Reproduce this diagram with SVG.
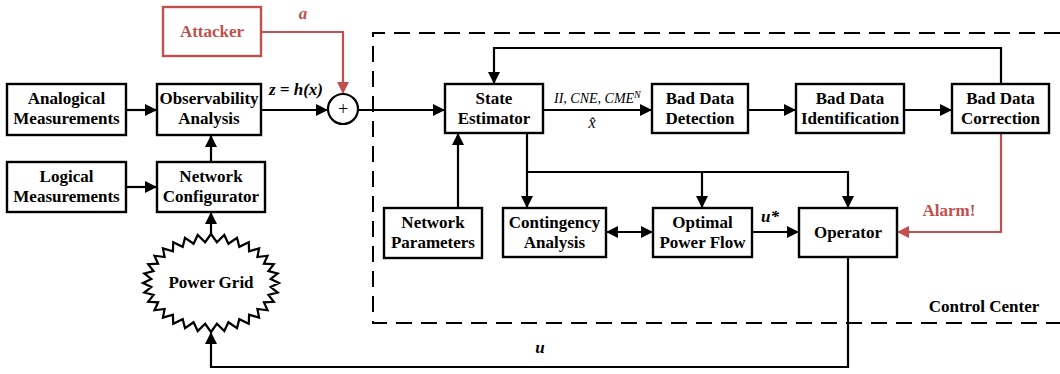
<svg xmlns="http://www.w3.org/2000/svg" width="1060" height="374" viewBox="0 0 1060 374">
<style>
text{font-family:"Liberation Serif","Times New Roman",serif;font-weight:bold;font-size:17px;fill:#000;text-anchor:middle}
.box{fill:#fff;stroke:#000;stroke-width:2.4}
.rbox{fill:#fff;stroke:#c0504d;stroke-width:2.4}
.red{fill:#c0504d}
.it{font-style:italic}
.w{fill:none;stroke:#000;stroke-width:2.2}
.wr{fill:none;stroke:#c0504d;stroke-width:2.2}
.a{marker-end:url(#ah)}
.ar{marker-end:url(#ahr)}
</style>
<defs>
<marker id="ah" markerUnits="userSpaceOnUse" markerWidth="14" markerHeight="14" refX="12" refY="6" orient="auto-start-reverse"><path d="M0,0 L12,6 L0,12 z" fill="#000"/></marker>
<marker id="ahr" markerUnits="userSpaceOnUse" markerWidth="14" markerHeight="14" refX="12" refY="6" orient="auto"><path d="M0,0 L12,6 L0,12 z" fill="#c0504d"/></marker>
</defs>
<rect width="1060" height="374" fill="#fff"/>
<g id="control-center">
<path d="M1060,33 H373 V323 H1060" fill="none" stroke="#000" stroke-width="2" stroke-dasharray="16,9"/>
<text x="984" y="312">Control Center</text>
</g>
<g id="connectors">
<path class="w a" d="M126,110 H157"/>
<path class="w a" d="M126,187 H157"/>
<path class="w a" d="M211,162 V135"/>
<path class="w a" d="M211,234 V212"/>
<path class="w a" d="M261,110 H328"/>
<path class="wr ar" d="M261,32 H343 V94"/>
<path class="w a" d="M358,110 H445"/>
<path class="w a" d="M543,110 H652"/>
<path class="w a" d="M748,110 H796"/>
<path class="w a" d="M904,110 H952"/>
<path class="w a" d="M1001,84 V48 H494 V84"/>
<path class="w a" d="M458,208 V133"/>
<path class="w a" d="M527,133 V208"/>
<path class="w a" d="M527,172 H848 V208"/>
<path class="w a" d="M702,172 V208"/>
<path class="w a" d="M606,232 H653" marker-start="url(#ah)"/>
<path class="w a" d="M752,232 H799"/>
<path class="wr ar" d="M1001,133 V232 H897"/>
<path class="w a" d="M848,257 V367 H211 V332"/>
<text x="303" y="19" class="it red">a</text>
<text x="296" y="95" class="it" font-size="16">z = h(x)</text>
<text x="554" y="103" class="it" style="font-weight:normal;font-size:14px;text-anchor:start">II, CNE, CME<tspan dy="-5" font-size="10">N</tspan></text>
<text x="592" y="128" class="it" style="font-weight:normal;font-size:16px">x̂</text>
<text x="770" y="222" class="it">u*</text>
<text x="949" y="216" class="red">Alarm!</text>
<text x="540" y="353" class="it">u</text>
</g>
<g id="attacker"><rect class="rbox" x="163" y="7" width="98" height="49"/><text x="212" y="37" class="red">Attacker</text></g>
<g id="analogical"><rect class="box" x="7" y="84" width="119" height="51"/><text x="66.5" y="104">Analogical</text><text x="66.5" y="124">Measurements</text></g>
<g id="observability"><rect class="box" x="157" y="84" width="104" height="51"/><text x="209" y="104">Observability</text><text x="209" y="124">Analysis</text></g>
<g id="logical"><rect class="box" x="7" y="162" width="119" height="50"/><text x="66.5" y="182">Logical</text><text x="66.5" y="202">Measurements</text></g>
<g id="netconf"><rect class="box" x="157" y="162" width="108" height="50"/><text x="211" y="182">Network</text><text x="211" y="202">Configurator</text></g>
<g id="sum"><circle cx="343" cy="109" r="15" fill="#fff" stroke="#000" stroke-width="2.2"/><text x="343" y="115" style="font-weight:normal;font-size:18px">+</text></g>
<g id="powergrid">
<polygon fill="#fff" stroke="#000" stroke-width="2.2" stroke-linejoin="miter" points="279,283 270.71,287.02 277.69,292.56 268.42,294.9 273.82,301.75 263.92,302.33 267.54,310.22 257.38,309.01 259.08,317.65 249.06,314.69 248.78,323.74 239.28,319.16 237.02,328.27 228.42,322.23 224.27,331.06 216.88,323.8 211,332 205.12,323.8 197.73,331.06 193.58,322.23 184.98,328.27 182.72,319.16 173.22,323.74 172.94,314.69 162.92,317.65 164.62,309.01 154.46,310.22 158.08,302.33 148.18,301.75 153.58,294.9 144.31,292.56 151.29,287.02 143,283 151.29,278.98 144.31,273.44 153.58,271.1 148.18,264.25 158.08,263.67 154.46,255.78 164.62,256.99 162.92,248.35 172.94,251.31 173.22,242.26 182.72,246.84 184.98,237.73 193.58,243.77 197.73,234.94 205.12,242.2 211,234 216.88,242.2 224.27,234.94 228.42,243.77 237.02,237.73 239.28,246.84 248.78,242.26 249.06,251.31 259.08,248.35 257.38,256.99 267.54,255.78 263.92,263.67 273.82,264.25 268.42,271.1 277.69,273.44 270.71,278.98"/>
<text x="211" y="288">Power Grid</text>
</g>
<g id="state-estimator"><rect class="box" x="445" y="84" width="98" height="49"/><text x="494" y="104">State</text><text x="494" y="124">Estimator</text></g>
<g id="bd-detection"><rect class="box" x="652" y="84" width="96" height="49"/><text x="700" y="104">Bad Data</text><text x="700" y="124">Detection</text></g>
<g id="bd-identification"><rect class="box" x="796" y="84" width="108" height="49"/><text x="850" y="104">Bad Data</text><text x="850" y="124">Identification</text></g>
<g id="bd-correction"><rect class="box" x="952" y="84" width="97" height="49"/><text x="1000.5" y="104">Bad Data</text><text x="1000.5" y="124">Correction</text></g>
<g id="net-params"><rect class="box" x="384" y="208" width="98" height="50"/><text x="433" y="228">Network</text><text x="433" y="248">Parameters</text></g>
<g id="contingency"><rect class="box" x="503" y="208" width="103" height="49"/><text x="554.5" y="228">Contingency</text><text x="554.5" y="248">Analysis</text></g>
<g id="opf"><rect class="box" x="653" y="208" width="99" height="49"/><text x="702.5" y="228">Optimal</text><text x="702.5" y="248">Power Flow</text></g>
<g id="operator"><rect class="box" x="799" y="208" width="98" height="49"/><text x="848" y="238">Operator</text></g>
</svg>
